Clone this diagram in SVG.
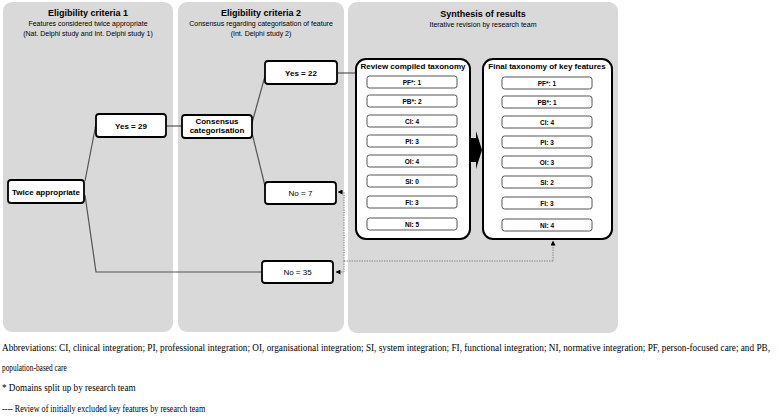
<svg xmlns="http://www.w3.org/2000/svg" width="778" height="417" viewBox="0 0 778 417">
<defs>
<style>
.panel{fill:#d9d9d9;stroke:none}
.node{fill:#fff;stroke:#000;stroke-width:1.8}
.tax{fill:#fff;stroke:#000;stroke-width:2}
.item{fill:#fff;stroke:#555;stroke-width:1}
.t{font-family:"Liberation Sans",Arial,sans-serif;text-anchor:middle;fill:#000}
.b{font-weight:bold}
.title{font-size:9px;font-weight:bold}
.sub{font-size:7px}
.nl{font-size:8px}
.il{font-size:6.5px;font-weight:bold}
.conn{fill:none;stroke:#555;stroke-width:1.2}
.dot{fill:none;stroke:#888;stroke-width:1;stroke-dasharray:1.5 1}
.foot{font-family:"Liberation Serif","Times New Roman",serif;font-size:9.5px;fill:#000}
</style>
<marker id="ah" viewBox="0 0 10 10" refX="9" refY="5" markerWidth="5" markerHeight="5" orient="auto-start-reverse" markerUnits="userSpaceOnUse">
<path d="M0,0 L10,5 L0,10 Z" fill="#000"/>
</marker>
</defs>

<g id="panel1">
<rect class="panel" x="3" y="2" width="170" height="330" rx="9"/>
<text class="t title" x="88" y="16">Eligibility criteria 1</text>
<text class="t sub" x="88" y="26">Features considered twice appropriate</text>
<text class="t sub" x="88" y="36">(Nat. Delphi study and Int. Delphi study 1)</text>
</g>
<g id="panel2">
<rect class="panel" x="178" y="2" width="166" height="330" rx="9"/>
<text class="t title" x="261" y="16">Eligibility criteria 2</text>
<text class="t sub" x="261" y="26">Consensus regarding categorisation of feature</text>
<text class="t sub" x="261" y="36">(Int. Delphi study 2)</text>
</g>
<g id="panel3">
<rect class="panel" x="348" y="2" width="270" height="331" rx="9"/>
<text class="t title" x="483" y="17">Synthesis of results</text>
<text class="t sub" x="483" y="27">Iterative revision by research team</text>
</g>

<g id="connectors">
<path class="conn" d="M85,181 L96,124"/>
<path class="conn" d="M85,195 L96,272 L262,272"/>
<path class="conn" d="M166,126 L182,126"/>
<path class="conn" d="M252,123 L265,76"/>
<path class="conn" d="M252,133 L265,186"/>
<path class="conn" d="M337,73 L356,73"/>
<path class="dot" d="M553,261 L553,241" marker-end="url(#ah)"/>
<path class="dot" d="M553,261 L344,261"/>
<path class="dot" d="M344,261 L344,192 L338,192" marker-end="url(#ah)"/>
<path class="dot" d="M344,261 L344,272 L336,272" marker-end="url(#ah)"/>
<path d="M471,138 H476 V131 L482,150 L476,169 V162 H471 Z" fill="#000"/>
</g>

<g id="twice">
<rect class="node" x="8" y="180" width="76" height="23" rx="3"/>
<text class="t nl b" x="46" y="194.5">Twice appropriate</text>
</g>
<g id="yes29">
<rect class="node" x="96" y="114" width="70" height="23" rx="3"/>
<text class="t nl b" x="131" y="128.5">Yes = 29</text>
</g>
<g id="consensus">
<rect class="node" x="182" y="115" width="70" height="23" rx="3"/>
<text class="t nl b" x="217" y="124">Consensus</text>
<text class="t nl b" x="217" y="133">categorisation</text>
</g>
<g id="yes22">
<rect class="node" x="265" y="61" width="72" height="23" rx="3"/>
<text class="t nl b" x="301" y="75.5">Yes = 22</text>
</g>
<g id="no7">
<rect class="node" x="265" y="182" width="71" height="22" rx="3"/>
<text class="t nl" x="300.5" y="196">No = 7</text>
</g>
<g id="no35">
<rect class="node" x="262" y="261" width="71" height="22" rx="3"/>
<text class="t nl" x="297.5" y="275">No = 35</text>
</g>

<g id="review">
<rect class="tax" x="356" y="59" width="114" height="180" rx="10"/>
<text class="t nl b" x="413" y="69">Review compiled taxonomy</text>
<rect class="item" x="367" y="76" width="90" height="12" rx="2.5"/><text class="t il" x="412" y="84.5">PF*: 1</text>
<rect class="item" x="367" y="95" width="90" height="12" rx="2.5"/><text class="t il" x="412" y="103.5">PB*: 2</text>
<rect class="item" x="367" y="115" width="90" height="12" rx="2.5"/><text class="t il" x="412" y="123.5">CI: 4</text>
<rect class="item" x="367" y="135" width="90" height="12" rx="2.5"/><text class="t il" x="412" y="143.5">PI: 3</text>
<rect class="item" x="367" y="155" width="90" height="12" rx="2.5"/><text class="t il" x="412" y="163.5">OI: 4</text>
<rect class="item" x="367" y="175" width="90" height="12" rx="2.5"/><text class="t il" x="412" y="183.5">SI: 0</text>
<rect class="item" x="367" y="196" width="90" height="12" rx="2.5"/><text class="t il" x="412" y="204.5">FI: 3</text>
<rect class="item" x="367" y="218" width="90" height="12" rx="2.5"/><text class="t il" x="412" y="226.5">NI: 5</text>
</g>
<g id="final">
<rect class="tax" x="483" y="59" width="129" height="180" rx="10"/>
<text class="t nl b" x="547" y="69">Final taxonomy of key features</text>
<rect class="item" x="502" y="77" width="90" height="12" rx="2.5"/><text class="t il" x="547" y="85.5">PF*: 1</text>
<rect class="item" x="502" y="96" width="90" height="12" rx="2.5"/><text class="t il" x="547" y="104.5">PB*: 1</text>
<rect class="item" x="502" y="116" width="90" height="12" rx="2.5"/><text class="t il" x="547" y="124.5">CI: 4</text>
<rect class="item" x="502" y="136" width="90" height="12" rx="2.5"/><text class="t il" x="547" y="144.5">PI: 3</text>
<rect class="item" x="502" y="156" width="90" height="12" rx="2.5"/><text class="t il" x="547" y="164.5">OI: 3</text>
<rect class="item" x="502" y="176" width="90" height="12" rx="2.5"/><text class="t il" x="547" y="184.5">SI: 2</text>
<rect class="item" x="502" y="197" width="90" height="12" rx="2.5"/><text class="t il" x="547" y="205.5">FI: 3</text>
<rect class="item" x="502" y="219" width="90" height="12" rx="2.5"/><text class="t il" x="547" y="227.5">NI: 4</text>
</g>

<g id="footnotes" transform="scale(0.8 1)">
<text class="foot" x="2.5" y="351" textLength="960" lengthAdjust="spacingAndGlyphs">Abbreviations: CI, clinical integration; PI, professional integration; OI, organisational integration; SI, system integration; FI, functional integration; NI, normative integration; PF, person-focused care; and PB,</text>
<text class="foot" x="2.5" y="371" textLength="81" lengthAdjust="spacingAndGlyphs">population-based care</text>
<text class="foot" x="2.5" y="391" textLength="167" lengthAdjust="spacingAndGlyphs">* Domains split up by research team</text>
<text class="foot" x="2.5" y="412" textLength="254" lengthAdjust="spacingAndGlyphs">---- Review of initially excluded key features by research team</text>
</g>
</svg>
